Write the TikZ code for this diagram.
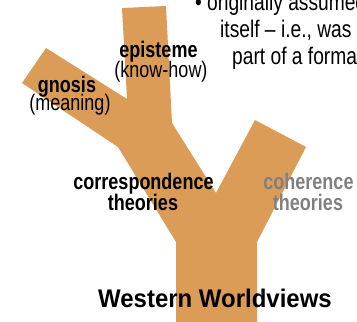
\documentclass[tikz,border=0pt]{standalone}
\usepackage{fontspec}
\usepackage{graphicx}
\setmainfont{Liberation Sans}
\definecolor{treeorange}{RGB}{219,156,87}
\definecolor{labelgray}{RGB}{128,128,128}
\newcommand{\narrow}[1]{\scalebox{0.8}[1]{#1}}
\begin{document}
\begin{tikzpicture}[x=1pt,y=-1pt,
  lbl/.style={inner sep=0pt,anchor=base,font=\fontsize{22.5}{24}\selectfont},
  bl/.style={lbl,font=\fontsize{22.5}{24}\selectfont\bfseries},
  toptext/.style={inner sep=0pt,anchor=base west,font=\fontsize{24}{26}\selectfont}]
\useasboundingbox (0,0) rectangle (357,322);
\fill[white] (0,0) rectangle (357,322);
% tree shape
\fill[treeorange] (176,322) -- (176,242) -- (118,147) -- (22,83) -- (46,48)
  -- (127,99) -- (122,8) -- (166,6) -- (172,123) -- (216,193) -- (255,120)
  -- (306,147) -- (257,242) -- (257,322) -- cycle;
% top-right bullet text (cut off at the right edge)
\begin{scope}
\clip (0,0) rectangle (357,322);
\node[toptext] (bullet) at (195,10) {\narrow{•}};
\node[toptext] (line1) at (207,10) {\narrow{originally assumed}};
\node[toptext] (line2) at (220,37.5) {\narrow{itself – i.e., was}};
\node[toptext] (line3) at (232,64) {\narrow{part of a formal}};
\end{scope}
% labels
\node[bl] (gnosis) at (67,92) {\narrow{gnosis}};
\node[lbl] (meaning) at (70,110) {\narrow{(meaning)}};
\node[bl] (episteme) at (158.5,57) {\narrow{episteme}};
\node[lbl] (knowhow) at (161,77) {\narrow{(know-how)}};
\node[bl] (corr) at (143.5,189) {\narrow{correspondence}};
\node[bl] (corrth) at (143,210) {\narrow{theories}};
\node[bl,text=labelgray] (coh) at (308.5,189) {\narrow{coherence}};
\node[bl,text=labelgray] (cohth) at (308,210) {\narrow{theories}};
\node[inner sep=0pt,anchor=base,font=\fontsize{25.5}{28}\selectfont\bfseries] (title) at (215,307) {\scalebox{0.94}[1]{Western Worldviews}};
\end{tikzpicture}
\end{document}
